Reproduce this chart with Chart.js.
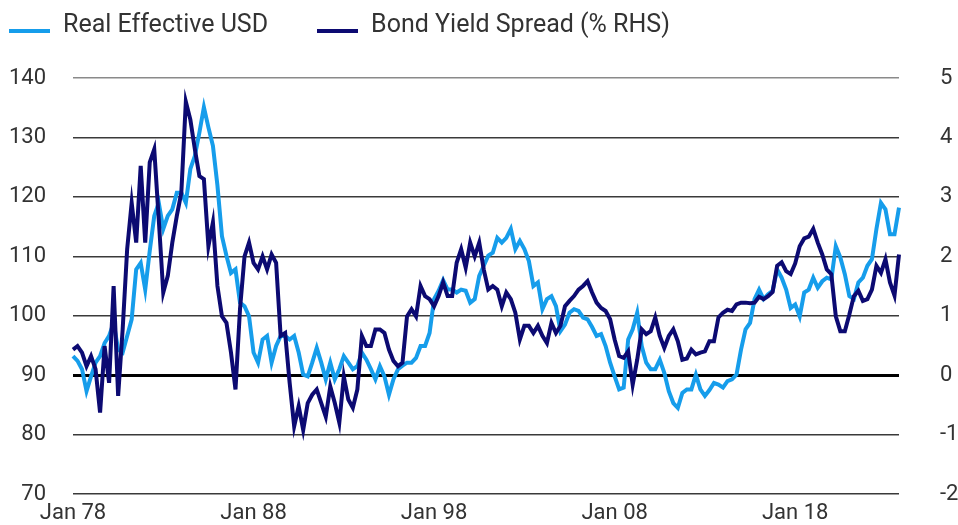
<!DOCTYPE html>
<html>
<head>
<meta charset="utf-8">
<script src="https://cdn.jsdelivr.net/npm/chart.js@4.4.1/dist/chart.umd.min.js"></script>
<style>
  body { margin: 0; background: #fff; overflow: hidden; }
  #wrap { position: relative; width: 958px; height: 525px; }
  #chart { position: absolute; left: 0; top: 0; }
  #legend { position: absolute; left: 9px; top: 9px; display: flex; gap: 49px;
            font-family: Roboto, sans-serif; font-size: 25px; color: #333; line-height: 30px; }
  .item { display: flex; align-items: center; }
  .swatch { width: 41px; height: 4px; margin-right: 13px; position: relative; top: 7px; }
</style>
</head>
<body>
<div id="wrap">
  <canvas id="chart" width="958" height="525"></canvas>
  <div id="legend"></div>
</div>
<script>
// quarterly observations, Jan 78 .. Oct 23
const years = [];
for (let y = 1978; y <= 2023; y++) years.push(y);
const months = ['Jan', 'Apr', 'Jul', 'Oct'];
const labels = [];
years.forEach(y => months.forEach(m => labels.push(m + ' ' + String(y).slice(2))));

const xTicks = ['Jan 78', 'Jan 88', 'Jan 98', 'Jan 08', 'Jan 18'];

const realUsd = [
  93.2, 92.4, 91.0, 87.3, 89.8, 92.1, 93.2, 95.4, 96.6, 98.8,
  94.3, 93.8, 96.6, 99.4, 107.8, 108.9, 104.4, 110.9, 116.8, 119.0,
  114.6, 116.8, 117.9, 120.7, 120.7, 119.0, 124.7, 126.9, 130.8, 135.1,
  131.7, 128.6, 121.9, 113.4, 110.1, 107.2, 107.8, 102.2, 101.6, 99.9,
  93.8, 92.1, 96.0, 96.6, 92.1, 94.9,
  96.6, 96.6, 96.0, 96.6,
  93.8, 90.1, 89.8, 92.1, 94.6, 92.1, 89.3, 92.1, 89.3, 91.0,
  93.2, 92.1, 91.0, 91.5, 93.8, 92.6, 91.0, 89.3, 91.5, 89.8,
  86.7, 89.3, 91.0, 91.6, 92.1, 92.1, 92.9, 94.9, 94.9, 97.1,
  102.8, 104.2, 106.0, 104.4, 104.4, 103.9, 104.4, 104.2, 102.2, 102.8,
  106.7, 108.4, 110.1,
  110.6, 113.1, 112.3, 113.1, 114.6, 111.2, 112.6,
  111.2, 109.2, 105.0, 105.6, 101.1, 102.8, 103.3, 101.6, 97.4, 98.5,
  100.5, 101.1, 100.8, 99.7, 99.4, 98.1, 96.6, 96.9, 94.9, 92.1,
  89.8, 87.6, 87.9, 96.0, 97.7, 100.5, 94.9, 92.1, 91.0, 91.0,
  92.6, 90.4, 87.3, 85.3, 84.5, 87.0, 87.6, 87.6, 90.1, 87.6,
  86.5, 87.5, 88.7, 88.4, 87.9, 89.0, 89.3, 90.1, 94.3, 97.7,
  98.8, 102.8, 104.4, 102.8, 103.6, 104.2, 107.8, 106.4, 104.4, 101.3,
  101.9, 99.9, 103.9, 104.4, 106.4, 104.7, 105.8, 106.4, 106.1, 111.7,
  109.8, 107.0, 103.3, 102.8, 105.6, 106.4, 108.4, 109.5, 114.6, 119.0,
  117.9, 113.7, 113.7, 118.2
];

const yieldSpread = [
  0.43, 0.49, 0.38, 0.15, 0.32, 0.1, -0.63, 0.49, -0.13, 1.5,
  -0.35, 0.77, 2.12, 2.9, 2.23, 3.52, 2.23, 3.58, 3.8, 2.62,
  1.39, 1.67, 2.23, 2.68, 3.07, 4.6, 4.3, 3.8, 3.35, 3.3,
  2.17, 2.57, 1.5, 0.99, 0.88, 0.38, -0.24, 1.11, 2.0, 2.23,
  1.89, 1.78, 2.0, 1.78, 2.03, 1.89,
  0.66, 0.71, -0.13, -0.86,
  -0.52, -0.92, -0.47, -0.33, -0.24, -0.47, -0.7, -0.19, -0.47, -0.8,
  -0.02, -0.41, -0.55, -0.24, 0.66, 0.49, 0.49, 0.77, 0.77, 0.71,
  0.43, 0.24, 0.15, 0.21, 0.99, 1.11, 0.99, 1.5, 1.33, 1.28,
  1.16, 1.33, 1.56, 1.33, 1.33, 1.89, 2.12, 1.81, 2.23, 2.0,
  2.23, 1.78, 1.44,
  1.5, 1.44, 1.16, 1.39, 1.28, 1.05, 0.6,
  0.83, 0.83, 0.71, 0.83, 0.66, 0.54, 0.88, 0.71, 0.83, 1.16,
  1.25, 1.33, 1.44, 1.5, 1.58, 1.39, 1.22, 1.13, 1.08, 0.94,
  0.6, 0.32, 0.29, 0.4, -0.16, 0.26, 0.77, 0.69, 0.74, 0.97,
  0.66, 0.46, 0.66, 0.77, 0.57, 0.26, 0.28, 0.43, 0.35, 0.38,
  0.4, 0.57, 0.57, 0.97, 1.05, 1.1, 1.08, 1.19, 1.22, 1.22,
  1.21, 1.22, 1.32, 1.28, 1.33, 1.4, 1.84, 1.9, 1.75, 1.7,
  1.88, 2.17, 2.3, 2.33, 2.46, 2.23, 2.03, 1.78, 1.7, 0.99,
  0.74, 0.74, 1.02, 1.33, 1.42, 1.25, 1.28, 1.44, 1.84, 1.72,
  1.95, 1.56, 1.34, 2.03
];

const leftTicks = [70, 140, 10];
const rightTicks = [-2, 5, 1];

const font = { family: 'Roboto, sans-serif', size: 22 };
Chart.defaults.color = '#333';

// fixed axis sizes; drop the tick-padding Chart.js adds above/below the y axes
const fixWidth = w => s => { s.width = w; s.paddingTop = 0; s.paddingBottom = 0; };

const chart = new Chart(document.getElementById('chart'), {
    type: 'line',
    data: {
        labels: labels,
        datasets: [
            {
                label: 'Real Effective USD',
                data: realUsd,
                borderColor: '#169DEB',
                backgroundColor: '#169DEB',
                borderWidth: 4,
                pointRadius: 0,
                yAxisID: 'y',
                order: 1
            },
            {
                label: 'Bond Yield Spread (% RHS)',
                data: yieldSpread,
                borderColor: '#0C0A72',
                backgroundColor: '#0C0A72',
                borderWidth: 4,
                pointRadius: 0,
                yAxisID: 'y2',
                order: 0
            }
        ]
    },
    options: {
        responsive: false,
        animation: false,
        layout: { padding: { top: 78 } },
        plugins: {
            legend: { display: false },
            tooltip: { enabled: false }
        },
        scales: {
            x: {
                grid: { display: false, drawTicks: false },
                border: { display: false },
                ticks: {
                    font: font,
                    autoSkip: false,
                    maxRotation: 0,
                    padding: 6,
                    callback: function (v, i) {
                        const l = labels[i];
                        return xTicks.includes(l) ? l : '';
                    }
                },
                afterFit: s => { s.height = 31; }
            },
            y: {
                position: 'left',
                min: leftTicks[0],
                max: leftTicks[1],
                ticks: { stepSize: leftTicks[2], font: font, padding: 27 },
                border: { display: false },
                grid: {
                    drawTicks: false,
                    color: c => c.tick.value === 90 ? '#000' : (c.tick.value === 140 ? '#8a8a8a' : '#3a3a3a'),
                    lineWidth: c => c.tick.value === 90 ? 3 : 1.5
                },
                afterFit: fixWidth(73)
            },
            y2: {
                position: 'right',
                min: rightTicks[0],
                max: rightTicks[1],
                ticks: { stepSize: rightTicks[2], font: font, padding: 41 },
                border: { display: false },
                grid: { drawOnChartArea: false, drawTicks: false },
                afterFit: fixWidth(59)
            }
        }
    }
});

// legend in the page, from the datasets
const legend = document.getElementById('legend');
chart.data.datasets.forEach(ds => {
    const item = document.createElement('div');
    item.className = 'item';
    const sw = document.createElement('span');
    sw.className = 'swatch';
    sw.style.background = ds.borderColor;
    const txt = document.createElement('span');
    txt.textContent = ds.label;
    item.appendChild(sw);
    item.appendChild(txt);
    legend.appendChild(item);
});
</script>
</body>
</html>
